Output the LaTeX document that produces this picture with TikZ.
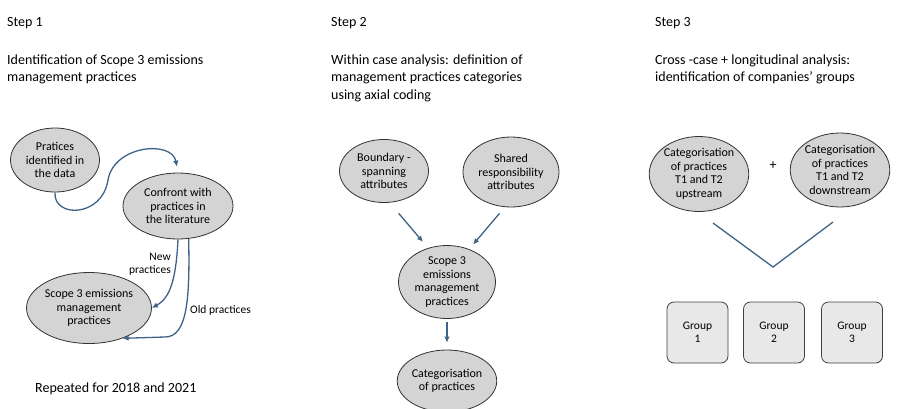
\documentclass[tikz,border=0pt]{standalone}
\usepackage{fontspec}
\setmainfont{Carlito}
\usetikzlibrary{shapes.geometric,arrows.meta}
\definecolor{flowblue}{HTML}{3D6388}
\definecolor{nodegrey}{HTML}{D4D4D4}
\definecolor{boxgrey}{HTML}{E8E8E8}
\tikzset{
    heading/.style={anchor=base west, inner sep=0, align=left, font=\fontsize{14}{17.5}\selectfont},
    stage/.style={ellipse, draw=black!80, fill=nodegrey, line width=0.8pt, inner sep=0, align=center, font=\fontsize{12}{13.5}\selectfont},
    group/.style={rectangle, rounded corners=7pt, draw=black!75, fill=boxgrey, line width=0.8pt, minimum size=61pt, inner sep=0, align=center, font=\fontsize{11.5}{13.5}\selectfont},
    flow/.style={draw=flowblue, line width=1.3pt, -{Latex[length=6pt,width=5.5pt]}},
    note/.style={inner sep=0, align=center, font=\fontsize{11.5}{13}\selectfont}
}

\begin{document}
\begin{tikzpicture}[x=1pt, y=-1pt]
    \useasboundingbox (0,0) rectangle (897,408);

    % headings (base = last line)
    \node[heading] (h1) at (7,26) {Step 1};
    \node[heading] (h2) at (331,26) {Step 2};
    \node[heading] (h3) at (655,26) {Step 3};
    \node[heading] (t1) at (7,81.5) {Identification of Scope 3 emissions\\management practices};
    \node[heading] (t2) at (331,99) {Within case analysis: definition of\\management practices categories\\using axial coding};
    \node[heading] (t3) at (655,81.5) {Cross -case + longitudinal analysis:\\identification of companies' groups};

    % step 1
    \node[stage, minimum width=89pt, minimum height=64pt] (data) at (55,160) {Pratices\\identified in\\the data};
    \node[stage, minimum width=110pt, minimum height=66pt] (confront) at (178,206) {Confront with\\practices in\\the literature};
    \node[stage, minimum width=124pt, minimum height=71pt] (scope1) at (89,308) {Scope 3 emissions\\management\\practices};
    \draw[flow, shorten >=6pt] (data.south) .. controls (53,218) and (102,218) .. (108,180)
        .. controls (114,145) and (172,140) .. (confront.north);
    \draw[flow] (confront.south) .. controls (176,280) and (170,298) .. (scope1.east);
    \draw[flow] (confront.-72) .. controls (190,300) and (187,337) .. (165,337) -- (scope1.-42);
    \node[note, anchor=base east, align=right] (newp) at (171,273) {New\\practices};
    \node[note, anchor=base west] (oldp) at (190,313) {Old practices};
    \node[heading] (rep) at (35,392) {Repeated for 2018 and 2021};

    % step 2
    \node[stage, minimum width=89pt, minimum height=63pt] (bound) at (384,171) {Boundary -\\spanning\\attributes};
    \node[stage, minimum width=96pt, minimum height=70pt] (shared) at (511,172) {Shared\\responsibility\\attributes};
    \node[stage, minimum width=97pt, minimum height=73pt] (scope2) at (447,282) {Scope 3\\emissions\\management\\practices};
    \node[stage, minimum width=96pt, minimum height=62pt] (cat2) at (447,381) {Categorisation\\of practices};
    \draw[flow, shorten <=14pt, shorten >=8pt] (bound.-80) -- (scope2.119);
    \draw[flow, shorten <=8pt, shorten >=6pt] (shared.-100) -- (scope2.56);
    \draw[flow, shorten <=3pt, shorten >=7pt] (scope2.south) -- (cat2.north);

    % step 3
    \node[stage, minimum width=99pt, minimum height=75pt] (up) at (699,174) {Categorisation\\of practices\\T1 and T2\\upstream};
    \node[stage, minimum width=99pt, minimum height=74pt] (down) at (840,170) {Categorisation\\of practices\\T1 and T2\\downstream};
    \node[note, font=\fontsize{14}{16}\selectfont] (plus) at (773,166) {+};
    \coordinate (vl) at (713,223);
    \coordinate (vm) at (773,267);
    \coordinate (vr) at (833,222);
    \draw[flowblue, line width=1.3pt] (vl) -- (vm) -- (vr);
    \node[group] (g1) at (697.5,332.5) {Group\\1};
    \node[group] (g2) at (774,332.5) {Group\\2};
    \node[group] (g3) at (852,332.5) {Group\\3};
\end{tikzpicture}
\end{document}
